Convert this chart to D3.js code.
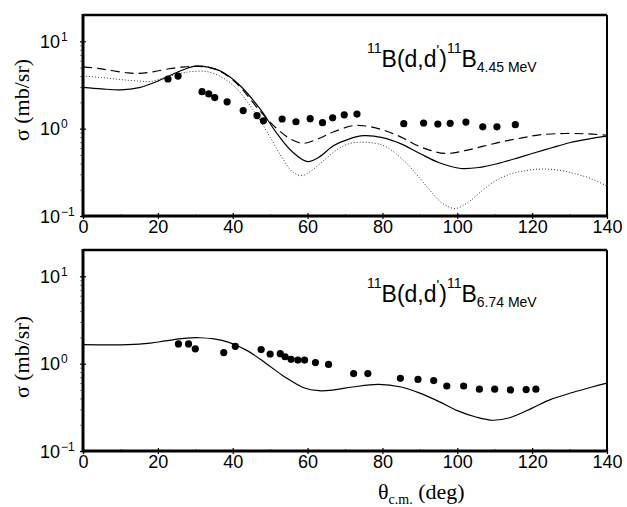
<!DOCTYPE html>
<html>
<head>
<meta charset="utf-8">
<script src="https://cdn.jsdelivr.net/npm/d3@7"></script>
<style>
  body { margin: 0; background: #fff; }
  svg { display: block; }
  .sans { font-family: "Liberation Sans", Arial, sans-serif; }
  .serif { font-family: "Liberation Serif", "Times New Roman", serif; }
</style>
</head>
<body>
<svg width="627" height="507"></svg>
<script>
// ---- data ----
// 4.45 MeV state, experiment
const exp445Angle = [22.7, 25.4, 31.8, 33.6, 35.2, 38.5, 42.8, 46.5, 48.2, 53.2, 56.9, 60.7, 64.0, 66.7, 69.8, 73.2,
                     85.7, 91.0, 94.8, 98.1, 102.3, 106.8, 110.6, 115.5];
const exp445Sigma = [3.7, 4.0, 2.65, 2.5, 2.27, 2.03, 1.61, 1.41, 1.23, 1.29, 1.20, 1.30, 1.17, 1.33, 1.44, 1.47,
                     1.14, 1.16, 1.13, 1.15, 1.19, 1.05, 1.05, 1.11];

// 4.45 MeV state, calculations (solid, dashed, dotted)
const solid445Angle = [0, 5, 10, 15, 20, 25, 30, 33, 37, 42, 47, 52, 56, 60, 63, 67, 71, 75, 80, 85, 90, 95, 101, 106, 111, 116, 120, 125, 130, 135, 140];
const solid445Sigma = [2.97, 2.85, 2.78, 2.95, 3.5, 4.4, 5.2, 5.1, 4.5, 3.1, 1.75, 0.86, 0.54, 0.42, 0.47, 0.64, 0.76, 0.83, 0.79, 0.67, 0.52, 0.41, 0.35, 0.36, 0.40, 0.46, 0.52, 0.60, 0.69, 0.76, 0.82];

const dash445Angle = [0, 4, 8, 12, 15, 19, 23, 27, 30, 34, 38, 42, 47, 52, 56, 59, 63, 67, 72, 75, 80, 85, 89, 93, 97, 102, 107, 112, 117, 122, 129, 135, 140];
const dash445Sigma = [5.1, 4.9, 4.6, 4.35, 4.3, 4.5, 4.85, 5.1, 5.15, 5.0, 4.2, 3.0, 1.65, 0.98, 0.74, 0.68, 0.77, 0.92, 1.08, 1.08, 0.97, 0.8, 0.65, 0.56, 0.52, 0.56, 0.63, 0.71, 0.78, 0.85, 0.88, 0.87, 0.84];

const dot445Angle = [0, 5, 10, 15, 18, 22, 26, 29, 33, 36, 38.5, 41, 44, 47, 50, 53, 56, 58.5, 61, 64, 68, 71, 74, 78, 81, 86, 90, 93, 96, 99.5, 103, 106, 110, 114, 118, 123, 128, 132, 136, 140];
const dot445Sigma = [4.0, 3.85, 3.65, 3.5, 3.47, 3.85, 4.3, 4.5, 4.5, 4.1, 3.55, 2.9, 2.0, 1.3, 0.8, 0.48, 0.32, 0.29, 0.33, 0.42, 0.58, 0.67, 0.70, 0.68, 0.62, 0.42, 0.27, 0.19, 0.14, 0.122, 0.145, 0.185, 0.25, 0.30, 0.33, 0.345, 0.33, 0.30, 0.265, 0.22];

// 6.74 MeV state
const exp674Angle = [25.5, 28.2, 30.0, 37.6, 40.7, 47.6, 50.0, 52.7, 54.0, 55.6, 57.4, 59.2, 62.1, 65.6, 72.3, 76.1,
                     84.8, 89.5, 93.7, 97.2, 101.7, 105.9, 110.0, 114.2, 118.4, 121.0];
const exp674Sigma = [1.68, 1.68, 1.48, 1.34, 1.58, 1.45, 1.29, 1.30, 1.20, 1.12, 1.10, 1.10, 1.03, 0.98, 0.77, 0.77,
                     0.68, 0.66, 0.64, 0.555, 0.555, 0.51, 0.51, 0.50, 0.505, 0.51];

const solid674Angle = [0, 12, 18, 22, 27, 31, 35, 39, 44, 49, 54, 59, 63, 67, 72, 79, 85, 90, 95, 100, 105, 109.5, 114, 120, 125, 131, 136, 140];
const solid674Sigma = [1.65, 1.65, 1.72, 1.82, 1.95, 1.98, 1.92, 1.75, 1.4, 1.0, 0.7, 0.53, 0.49, 0.5, 0.54, 0.58, 0.54, 0.46, 0.37, 0.29, 0.245, 0.225, 0.24, 0.31, 0.39, 0.47, 0.54, 0.60];

const xMajor = [0, 20, 40, 60, 80, 100, 120, 140];
const xMinor = [10, 30, 50, 70, 90, 110, 130];
const yMajor = [0.1, 1, 10];
const yExp = ["\u22121", "0", "1"];
const yMinor = [0.2, 0.3, 0.4, 0.5, 0.6, 0.7, 0.8, 0.9, 2, 3, 4, 5, 6, 7, 8, 9];

const zip = (a, b) => a.map((v, i) => [v, b[i]]);

const svg = d3.select("svg");
const left = 83, right = 607;

const panels = [
  { top: 15, bottom: 216, state: "4.45 MeV",
    exp: zip(exp445Angle, exp445Sigma),
    curves: [
      { pts: zip(solid445Angle, solid445Sigma), dash: null, w: 1.2, c: "#000" },
      { pts: zip(dash445Angle, dash445Sigma), dash: "9,5", w: 1.2, c: "#000" },
      { pts: zip(dot445Angle, dot445Sigma), dash: "1,2", w: 1, c: "#333" }
    ] },
  { top: 250, bottom: 451, state: "6.74 MeV",
    exp: zip(exp674Angle, exp674Sigma),
    curves: [
      { pts: zip(solid674Angle, solid674Sigma), dash: null, w: 1.2, c: "#000" }
    ] }
];

const x = d3.scaleLinear().domain([0, 140]).range([left, right]);

panels.forEach(p => {
  const y = d3.scaleLog().domain([0.1, 20]).range([p.bottom, p.top]);
  const g = svg.append("g");

  const clipId = "clip" + p.top;
  svg.append("clipPath").attr("id", clipId)
    .append("rect").attr("x", left).attr("y", p.top).attr("width", right - left).attr("height", p.bottom - p.top);

  // curves
  const line = d3.line().x(d => x(d[0])).y(d => y(d[1])).curve(d3.curveCatmullRom.alpha(0.5));
  p.curves.forEach(c => {
    g.append("path")
      .attr("clip-path", `url(#${clipId})`)
      .attr("d", line(c.pts))
      .attr("fill", "none")
      .attr("stroke", c.c)
      .attr("stroke-width", c.w)
      .attr("stroke-dasharray", c.dash);
  });

  // data points
  g.selectAll("circle.pt").data(p.exp).join("circle")
    .attr("class", "pt")
    .attr("cx", d => x(d[0]))
    .attr("cy", d => y(d[1]))
    .attr("r", 3.6)
    .attr("fill", "#000");

  // frame
  g.append("line").attr("x1", left).attr("x2", right).attr("y1", p.top).attr("y2", p.top)
    .attr("stroke", "#000").attr("stroke-width", 2.5);
  g.append("line").attr("x1", right).attr("x2", right).attr("y1", p.top).attr("y2", p.bottom)
    .attr("stroke", "#000").attr("stroke-width", 2);

  // x axis
  const xa = g.append("g").attr("transform", `translate(0,${p.bottom})`).attr("class", "sans")
    .call(d3.axisBottom(x).tickValues(xMajor).tickSize(3).tickPadding(1).tickFormat(d3.format("d")));
  xa.select(".domain").remove();
  xa.selectAll(".tick line").attr("y1", -3).attr("y2", 3).attr("stroke-width", 1.2);
  xa.selectAll(".tick text").attr("font-size", 18).attr("fill", "#000").attr("font-family", null);
  const xm = g.append("g").attr("transform", `translate(0,${p.bottom})`)
    .call(d3.axisBottom(x).tickValues(xMinor).tickSize(-2).tickFormat(""));
  xm.select(".domain").remove();
  xm.selectAll(".tick line").attr("stroke", "#777");

  // y axis
  const ya = g.append("g").attr("transform", `translate(${left},0)`)
    .call(d3.axisLeft(y).tickValues(yMajor).tickSize(3).tickFormat(""));
  ya.select(".domain").remove();
  ya.selectAll(".tick line").attr("x1", -3).attr("x2", 3).attr("stroke-width", 1.2);
  const ym = g.append("g").attr("transform", `translate(${left},0)`)
    .call(d3.axisLeft(y).tickValues(yMinor).tickSize(3).tickFormat(""));
  ym.select(".domain").remove();
  ym.selectAll(".tick line").attr("stroke", "#888");

  yMajor.forEach((v, i) => {
    const yy = y(v) + 6.5;
    g.append("text").attr("class", "sans").attr("x", 60).attr("y", yy)
      .attr("text-anchor", "end").attr("font-size", 18).attr("fill", "#000").text("10");
    g.append("text").attr("class", "sans").attr("x", 61).attr("y", yy - 7)
      .attr("font-size", 12).attr("fill", "#000").text(yExp[i]);
  });

  // thick left and bottom axis lines
  g.append("line").attr("x1", left).attr("x2", right).attr("y1", p.bottom).attr("y2", p.bottom)
    .attr("stroke", "#000").attr("stroke-width", 3);
  g.append("line").attr("x1", left).attr("x2", left).attr("y1", p.top - 1).attr("y2", p.bottom + 1.5)
    .attr("stroke", "#000").attr("stroke-width", 3);

  // y title
  const cy = p.top === 15 ? 100 : 357;
  g.append("text").attr("class", "serif")
    .attr("transform", `translate(29,${cy}) rotate(-90)`)
    .attr("text-anchor", "middle").attr("font-size", 22).attr("fill", "#000")
    .text("\u03C3 (mb/sr)");

  // reaction label
  const by = p.top + 52;
  const t = g.append("text").attr("class", "sans").attr("x", 367).attr("y", by)
    .attr("font-size", 23).attr("fill", "#000");
  t.append("tspan").attr("font-size", 14).attr("dy", -14).text("11");
  t.append("tspan").attr("dy", 14).text("B(d,d");
  t.append("tspan").attr("font-size", 14).attr("dy", -12).text("'");
  t.append("tspan").attr("dy", 12).text(")");
  t.append("tspan").attr("font-size", 14).attr("dy", -14).text("11");
  t.append("tspan").attr("dy", 14).text("B");
  t.append("tspan").attr("font-size", 14).attr("dy", 5).text(p.state);
});

// x title
const xt = svg.append("text").attr("class", "serif").attr("x", 378).attr("y", 499)
  .attr("font-size", 22).attr("fill", "#000");
xt.append("tspan").text("\u03B8");
xt.append("tspan").attr("font-size", 14).attr("dy", 5).text("c.m.");
xt.append("tspan").attr("dy", -5).text(" (deg)");
</script>
</body>
</html>
